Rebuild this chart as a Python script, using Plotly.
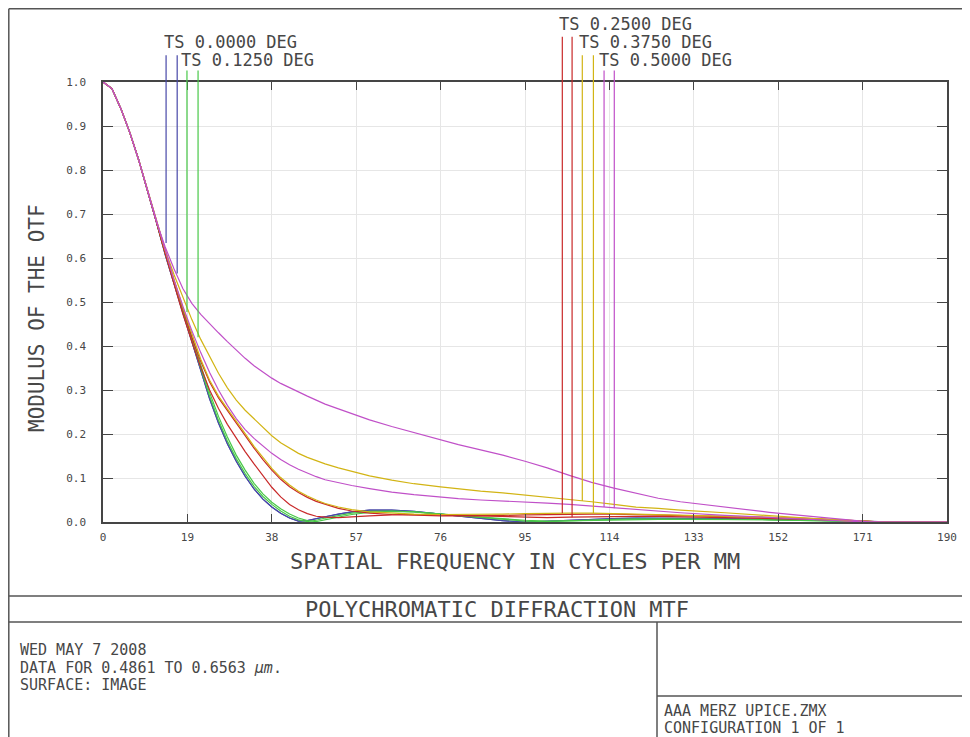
import plotly.graph_objects as go

# ---------------- data ----------------
freq = [0, 2, 4, 6, 8, 10, 12, 14, 16, 18, 20, 22, 24, 26, 28, 30, 32, 34, 36, 38,
        40, 42, 44, 46, 48, 50, 53, 56, 60, 65, 70, 76, 80, 85, 90, 95, 100, 105,
        110, 115, 120, 125, 130, 140, 150, 160, 168, 172, 176, 180, 190]

mtf_000 = [1.0, 0.985, 0.94, 0.886, 0.824, 0.756, 0.683, 0.608, 0.54, 0.475, 0.41, 0.345,
           0.28, 0.225, 0.178, 0.138, 0.104, 0.075, 0.052, 0.034, 0.02, 0.009, 0.002,
           0.003, 0.008, 0.012, 0.018, 0.023, 0.027, 0.027, 0.024, 0.018, 0.013, 0.008,
           0.003, 0.0, 0.002, 0.005, 0.007, 0.008, 0.009, 0.009, 0.009, 0.008, 0.006,
           0.004, 0.002, 0.001, 0.0, 0.0, 0.0]

mtf_125_t = [1.0, 0.985, 0.94, 0.886, 0.824, 0.756, 0.683, 0.61, 0.543, 0.478, 0.414, 0.35,
             0.286, 0.231, 0.184, 0.144, 0.11, 0.081, 0.058, 0.04, 0.025, 0.013, 0.005,
             0.001, 0.004, 0.009, 0.015, 0.02, 0.024, 0.025, 0.023, 0.018, 0.014, 0.009,
             0.005, 0.002, 0.001, 0.003, 0.005, 0.006, 0.007, 0.007, 0.007, 0.006, 0.005,
             0.003, 0.001, 0.0, 0.0, 0.0, 0.0]

mtf_125_s = [1.0, 0.985, 0.94, 0.886, 0.824, 0.756, 0.683, 0.612, 0.547, 0.483, 0.42, 0.357,
             0.294, 0.24, 0.193, 0.152, 0.118, 0.088, 0.064, 0.045, 0.03, 0.018, 0.009,
             0.003, 0.001, 0.005, 0.011, 0.017, 0.022, 0.024, 0.023, 0.019, 0.015, 0.011,
             0.007, 0.004, 0.002, 0.003, 0.004, 0.005, 0.006, 0.006, 0.006, 0.006, 0.005,
             0.003, 0.001, 0.0, 0.0, 0.0, 0.0]

mtf_250_t = [1.0, 0.985, 0.94, 0.886, 0.824, 0.756, 0.683, 0.612, 0.547, 0.482, 0.42, 0.365,
             0.318, 0.282, 0.253, 0.226, 0.197, 0.168, 0.142, 0.118, 0.097, 0.08, 0.067,
             0.056, 0.047, 0.04, 0.031, 0.025, 0.02, 0.017, 0.015, 0.014, 0.014, 0.014,
             0.015, 0.016, 0.017, 0.018, 0.018, 0.018, 0.017, 0.016, 0.015, 0.013, 0.011,
             0.008, 0.004, 0.002, 0.0, 0.0, 0.0]

mtf_250_s = [1.0, 0.985, 0.94, 0.886, 0.824, 0.756, 0.683, 0.61, 0.54, 0.472, 0.41, 0.352,
             0.3, 0.258, 0.222, 0.19, 0.16, 0.132, 0.105, 0.079, 0.057, 0.04, 0.028,
             0.019, 0.013, 0.011, 0.01, 0.011, 0.014, 0.016, 0.017, 0.016, 0.015, 0.013,
             0.012, 0.01, 0.01, 0.011, 0.012, 0.013, 0.013, 0.013, 0.012, 0.011, 0.009,
             0.006, 0.003, 0.001, 0.0, 0.0, 0.0]

mtf_375_t = [1.0, 0.985, 0.94, 0.886, 0.824, 0.756, 0.683, 0.618, 0.562, 0.51, 0.46, 0.415,
             0.375, 0.338, 0.305, 0.277, 0.254, 0.234, 0.215, 0.196, 0.18, 0.167, 0.156,
             0.147, 0.139, 0.132, 0.123, 0.115, 0.105, 0.095, 0.087, 0.08, 0.075, 0.07,
             0.066, 0.061, 0.057, 0.052, 0.046, 0.04, 0.034, 0.031, 0.027, 0.021, 0.015,
             0.008, 0.002, 0.0, 0.0, 0.0, 0.0]

mtf_375_s = [1.0, 0.985, 0.94, 0.886, 0.824, 0.756, 0.683, 0.614, 0.55, 0.487, 0.426, 0.37,
             0.322, 0.286, 0.257, 0.23, 0.201, 0.172, 0.146, 0.122, 0.101, 0.084, 0.07,
             0.059, 0.05, 0.042, 0.034, 0.028, 0.023, 0.02, 0.018, 0.017, 0.017, 0.017,
             0.018, 0.019, 0.02, 0.02, 0.02, 0.019, 0.018, 0.017, 0.016, 0.014, 0.011,
             0.008, 0.004, 0.002, 0.0, 0.0, 0.0]

mtf_500_t = [1.0, 0.985, 0.94, 0.886, 0.824, 0.756, 0.683, 0.615, 0.55, 0.49, 0.435, 0.385,
             0.34, 0.3, 0.265, 0.235, 0.21, 0.19, 0.172, 0.156, 0.142, 0.13, 0.12,
             0.111, 0.103, 0.096, 0.089, 0.083, 0.076, 0.068, 0.062, 0.056, 0.053, 0.05,
             0.048, 0.046, 0.043, 0.04, 0.036, 0.032, 0.028, 0.025, 0.021, 0.015, 0.01,
             0.005, 0.001, 0.0, 0.0, 0.0, 0.0]

mtf_500_s = [1.0, 0.985, 0.94, 0.886, 0.824, 0.756, 0.683, 0.625, 0.575, 0.53, 0.497, 0.472,
             0.45, 0.43, 0.41, 0.39, 0.372, 0.355, 0.34, 0.327, 0.315, 0.305, 0.295,
             0.286, 0.277, 0.268, 0.257, 0.246, 0.232, 0.217, 0.203, 0.186, 0.176, 0.164,
             0.152, 0.138, 0.123, 0.106, 0.09, 0.077, 0.065, 0.054, 0.046, 0.034, 0.022,
             0.012, 0.005, 0.001, 0.0, 0.0, 0.0]

field_labels = ["TS 0.0000 DEG", "TS 0.1250 DEG", "TS 0.2500 DEG", "TS 0.3750 DEG", "TS 0.5000 DEG"]
field_colors = ["#4848a8", "#48c848", "#c82828", "#d2b414", "#c050c8"]

# legend key lines (T, S per field): frequency position, top and bottom value
legend_line_freq = [14.2, 16.7, 18.9, 21.4, 103.4, 105.6, 107.9, 110.4, 112.8, 115.1]
legend_line_top = [1.061, 1.061, 1.026, 1.026, 1.103, 1.103, 1.061, 1.061, 1.026, 1.026]
legend_line_end = [0.634, 0.565, 0.477, 0.42, 0.02, 0.011, 0.048, 0.02, 0.034, 0.031]
legend_label_freq = [13.3, 17.1, 102.3, 106.8, 111.3]
legend_label_y = [1.091, 1.05, 1.132, 1.091, 1.05]

x_ticks = [0, 19, 38, 57, 76, 95, 114, 133, 152, 171, 190]
y_ticks = [0.0, 0.1, 0.2, 0.3, 0.4, 0.5, 0.6, 0.7, 0.8, 0.9, 1.0]

# ---------------- layout geometry ----------------
# the page body has an 8px margin, so the figure is made 8px smaller and
# positions below are given in window pixels
OFF = 8
W, H = 970 - OFF, 737 - OFF
def px(x):
    return (x - OFF) / W
def py(y):
    return 1 - (y - OFF) / H

x_dom = [px(103), px(947)]
y_dom = [py(522), py(82)]
y2_top = (1 - y_dom[0]) / (y_dom[1] - y_dom[0])

FONT = "DejaVu Sans Mono"
TXT = "#474747"
FRAME = "#454545"

fig = go.Figure()

series = [
    (mtf_000, 0), (mtf_000, 0),
    (mtf_125_t, 1), (mtf_125_s, 1),
    (mtf_250_t, 2), (mtf_250_s, 2),
    (mtf_375_t, 3), (mtf_375_s, 3),
    (mtf_500_t, 4), (mtf_500_s, 4),
]
for vals, fi in series:
    fig.add_trace(go.Scatter(x=freq, y=vals, mode="lines",
                             line=dict(color=field_colors[fi], width=1.2),
                             xaxis="x", yaxis="y", hoverinfo="skip"))

# legend key lines in an overlay subplot that extends above the frame
for i, f in enumerate(legend_line_freq):
    fig.add_trace(go.Scatter(x=[f, f], y=[legend_line_top[i], legend_line_end[i]],
                             mode="lines",
                             line=dict(color=field_colors[i // 2], width=1.2),
                             xaxis="x2", yaxis="y2", hoverinfo="skip"))

annotations = []
for i, lab in enumerate(field_labels):
    annotations.append(dict(text=lab, x=legend_label_freq[i], y=legend_label_y[i],
                            xref="x2", yref="y2", xanchor="left", yanchor="middle",
                            showarrow=False, font=dict(family=FONT, size=17, color=TXT)))

def note(text, x, y, size, anchor="left", angle=0):
    return dict(text=text, x=px(x), y=py(y), xref="paper", yref="paper", textangle=angle,
                xanchor=anchor, yanchor="middle", showarrow=False,
                font=dict(family=FONT, size=size, color=TXT))

annotations += [
    note("SPATIAL FREQUENCY IN CYCLES PER MM", 515, 561, 22, "center"),
    note("MODULUS OF THE OTF", 37, 318, 21, "center", -90),
    note("POLYCHROMATIC DIFFRACTION MTF", 497, 609, 22, "center"),
    note("WED MAY 7 2008", 18, 650, 15),
    note("DATA FOR 0.4861 TO 0.6563 <i>µm</i>.", 18, 667.5, 15),
    note("SURFACE: IMAGE", 18, 685, 15),
    note("AAA MERZ UPICE.ZMX", 662, 711, 15),
    note("CONFIGURATION 1 OF 1", 662, 728, 15),
]

def seg(x0, y0, x1, y1):
    return dict(type="line", xref="paper", yref="paper", x0=px(x0), y0=py(y0), x1=px(x1), y1=py(y1),
                line=dict(color="#555555", width=1.5))

shapes = [
    seg(8.8, 8.8, 975, 8.8),
    seg(8.8, 8.8, 8.8, 745),
    seg(8.8, 596, 975, 596),
    seg(8.8, 622, 975, 622),
    seg(657, 622, 657, 745),
    seg(657, 696, 975, 696),
]

axis_common = dict(ticks="inside", mirror="allticks", showline=True, linecolor=FRAME, linewidth=1.5,
                   tickcolor=FRAME, showgrid=True, gridcolor="#e6e6e6", gridwidth=1, zeroline=False,
                   tickfont=dict(family=FONT, size=11, color=TXT), automargin=False, fixedrange=True)

fig.update_layout(
    width=W, height=H,
    margin=dict(l=0, r=0, t=0, b=0),
    paper_bgcolor="white", plot_bgcolor="rgba(0,0,0,0)",
    showlegend=False,
    xaxis=dict(domain=x_dom, range=[0, 190], tickvals=x_ticks, ticklen=8,
               ticklabelstandoff=4, anchor="y", **axis_common),
    yaxis=dict(domain=y_dom, range=[0, 1], tickvals=y_ticks, tickformat=".1f", ticklen=10,
               ticklabelstandoff=13, anchor="x", **axis_common),
    xaxis2=dict(domain=x_dom, range=[0, 190], visible=False, anchor="y2", fixedrange=True),
    yaxis2=dict(domain=[y_dom[0], 1.0], range=[0, y2_top], visible=False, anchor="x2", fixedrange=True),
    annotations=annotations,
    shapes=shapes,
)

fig.write_html("out.html")
